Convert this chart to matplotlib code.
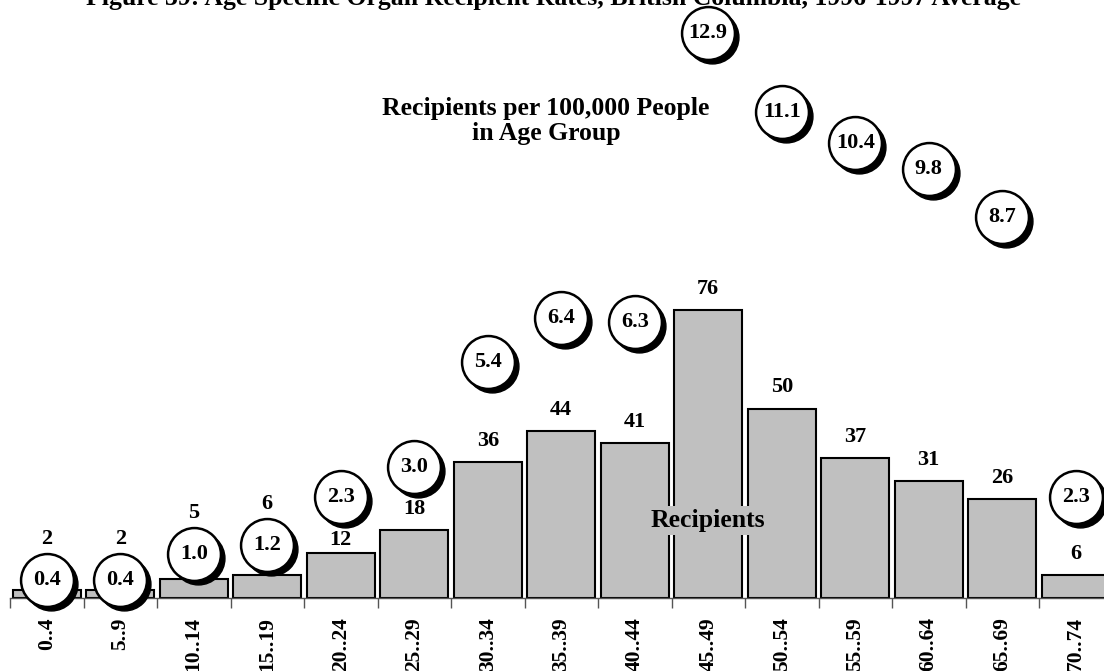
# Age specific organ recipient rates - bar chart with rate "bubbles"
import numpy as np
import matplotlib.pyplot as plt
from matplotlib.transforms import offset_copy

# ---------------- data ----------------
age_groups = ["0..4", "5..9", "10..14", "15..19", "20..24", "25..29", "30..34",
              "35..39", "40..44", "45..49", "50..54", "55..59", "60..64", "65..69", "70..74"]
recipients = [2, 2, 5, 6, 12, 18, 36, 44, 41, 76, 50, 37, 31, 26, 6]
rates = [0.4, 0.4, 1.0, 1.2, 2.3, 3.0, 5.4, 6.4, 6.3, 12.9, 11.1, 10.4, 9.8, 8.7, 2.3]

title = "Figure 39: Age Specific Organ Recipient Rates, British Columbia, 1996-1997 Average"

plt.rcParams['font.family'] = ['Liberation Serif', 'DejaVu Serif']
plt.rcParams['font.weight'] = 'bold'

W, H = 1104, 671
fig = plt.figure(figsize=(W / 100, H / 100), dpi=100)

# axes: baseline at y=598px, left edge at x=10px, runs off the right side
left_px, base_px, step_px = 10, 598, 73.5
n = len(age_groups)
ax = fig.add_axes([left_px / W, (H - base_px) / H, n * step_px / W, base_px / H])

x = np.arange(n)
ax.bar(x, recipients, width=0.925, color="#c0c0c0", edgecolor="black", linewidth=1.5, zorder=2)
ax.set_xlim(-0.5, n - 0.5)
ax.set_ylim(0, base_px / 3.79)

for s in ["top", "right", "left"]:
    ax.spines[s].set_visible(False)
ax.spines["bottom"].set_color("#555555")
ax.spines["bottom"].set_linewidth(1.0)
ax.set_yticks([])
ax.set_xticks(x)
ax.set_xticklabels(age_groups, rotation=90, fontsize=15.5, fontweight="bold", va="top")
ax.tick_params(axis="x", which="major", length=0, pad=14)
ax.set_xticks(np.arange(-0.5, n, 1.0), minor=True)
ax.tick_params(axis="x", which="minor", length=7, color="#555555", width=1.0)

# rates on a second scale
ax2 = ax.twinx()
ax2.set_ylim(0, base_px / 43.76)
ax2.axis("off")

shadow = offset_copy(ax2.transData, fig=fig, x=4, y=-4, units="dots")
ax2.scatter(x, rates, s=1450, color="black", transform=shadow, zorder=3, clip_on=False)
ax2.scatter(x, rates, s=1450, facecolor="white", edgecolor="black", linewidth=1.8,
            zorder=4, clip_on=False)
for xi, r in zip(x, rates):
    ax2.text(xi, r, f"{r:.1f}", ha="center", va="center", fontsize=16,
             fontweight="bold", zorder=5)

# count labels: above the bar, above the bubble when it sits on the bar,
# or tucked down onto the bar when a bubble hangs just above it
fig.canvas.draw()
radius_px = 27
for xi, c, r in zip(x, recipients, rates):
    bar_top = ax.transData.transform((xi, c))[1]
    bub = ax2.transData.transform((xi, r))[1]
    label_y = bar_top + 11
    if bub - radius_px < label_y + 10:
        label_y = max(label_y, bub + radius_px + 4)
    elif bub - radius_px - 4 < label_y + 20:
        label_y = bar_top + 3
    ax.annotate(str(c), xy=(xi, c), xytext=(0, label_y - bar_top), textcoords="offset pixels",
                ha="center", va="bottom", fontsize=16, fontweight="bold")

ax.text(9, 20.5, "Recipients", ha="center", va="center", fontsize=18.5, fontweight="bold",
        zorder=6, bbox=dict(facecolor="#c0c0c0", edgecolor="none", pad=2))

fig.text(546 / W, 1 - 121 / H, "Recipients per 100,000 People\nin Age Group",
         ha="center", va="center", fontsize=18.5, fontweight="bold", linespacing=1.15)

# title sits mostly above the top edge, as in the original crop
fig.text(553 / W, 1 - 5 / H, title, ha="center", va="baseline", fontsize=18.5,
         fontweight="bold")

fig.savefig("out.png", dpi=100)
